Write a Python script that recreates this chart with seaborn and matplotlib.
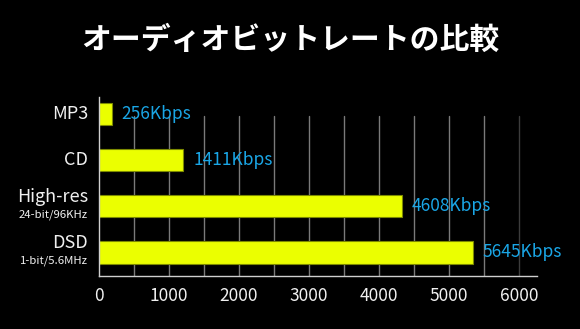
import matplotlib
matplotlib.use("Agg")
import matplotlib.pyplot as plt
import seaborn as sns
import pandas as pd

# ---- data ----
categories = ["MP3", "CD", "High-res", "DSD"]
subtitles = ["", "", "24-bit/96KHz", "1-bit/5.6MHz"]
bar_lengths = [190, 1210, 4330, 5340]          # bar lengths as drawn on the axis
value_labels = ["256Kbps", "1411Kbps", "4608Kbps", "5645Kbps"]
xticks = [0, 1000, 2000, 3000, 4000, 5000, 6000]
title = "オーディオビットレートの比較"

sns.set_style("dark")
plt.rcParams["font.family"] = ["Noto Sans CJK JP", "DejaVu Sans"]

BG = "#000000"
BAR = "#ebff00"
VAL = "#1aa6e6"
TXT = "#f0f0f0"

df = pd.DataFrame({"cat": categories, "len": bar_lengths})

fig = plt.figure(figsize=(5.8, 3.29), dpi=100, facecolor=BG)
ax = fig.add_axes([98.5 / 580, 1 - 276 / 329, (537 - 98.5) / 580, (276 - 97) / 329])
ax.set_facecolor(BG)

# gridlines
for gx in range(500, 6001, 500):
    col = "#3c3c3c" if gx == 6000 else "#7a7a7a"
    ax.axvline(gx, ymin=0, ymax=0.894, color=col, lw=1, zorder=0)

sns.barplot(data=df, x="len", y="cat", orient="h", color=BAR, saturation=1,
            width=0.48, ax=ax, zorder=2, edgecolor="#7d8a00", linewidth=0.8)

ax.set_xlim(0, 6260)
ax.set_ylim(3.51, -0.37)
ax.set_xticks(xticks)
ax.set_xticklabels([str(t) for t in xticks], color=TXT, fontsize=12.5)
ax.tick_params(axis="x", length=0, pad=8)
ax.set_yticks([])
ax.set_xlabel("")
ax.set_ylabel("")
ax.grid(False)

for s in ["top", "right"]:
    ax.spines[s].set_visible(False)
for s in ["left", "bottom"]:
    ax.spines[s].set_visible(True)
    ax.spines[s].set_color("#cfcfcf")
    ax.spines[s].set_linewidth(1)

# category labels
for i, (c, sub) in enumerate(zip(categories, subtitles)):
    if sub:
        ax.annotate(c, xy=(0, i), xycoords=("axes fraction", "data"),
                    xytext=(-7.5, 6.5), textcoords="offset points",
                    ha="right", va="center", color=TXT, fontsize=13)
        ax.annotate(sub, xy=(0, i), xycoords=("axes fraction", "data"),
                    xytext=(-7.5, -6.2), textcoords="offset points",
                    ha="right", va="center", color=TXT, fontsize=8.2)
    else:
        ax.annotate(c, xy=(0, i), xycoords=("axes fraction", "data"),
                    xytext=(-7.5, 0), textcoords="offset points",
                    ha="right", va="center", color=TXT, fontsize=13)

# value labels
for i, (v, lab) in enumerate(zip(bar_lengths, value_labels)):
    ax.annotate(lab, xy=(v, i), xycoords="data",
                xytext=(7.2, 0), textcoords="offset points",
                ha="left", va="center", color=VAL, fontsize=12.5)

fig.text(0.5, 1 - 40 / 329, title, ha="center", va="center",
         color="white", fontsize=21.5, fontweight="bold")

fig.savefig("out.png", dpi=100, facecolor=BG)
